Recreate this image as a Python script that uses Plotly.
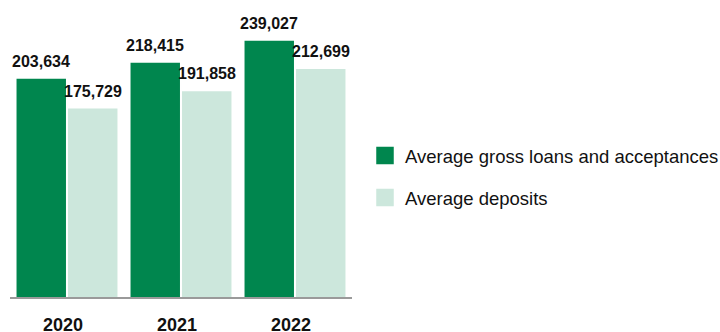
import plotly.graph_objects as go

years = ["2020", "2021", "2022"]
loans = [203634, 218415, 239027]
deposits = [175729, 191858, 212699]
series_names = ["Average gross loans and acceptances", "Average deposits"]
colors = ["#00864E", "#CCE7DC"]

FONT = "Liberation Sans, Arial, sans-serif"

fig = go.Figure()
for name, vals, col in zip(series_names, [loans, deposits], colors):
    fig.add_trace(go.Bar(x=years, y=vals, name=name, marker_color=col,
                         marker_line_width=0, showlegend=False))
for i, (name, col) in enumerate(zip(series_names, colors)):
    fig.add_trace(go.Scatter(x=[years[0]], y=[None], mode="markers", name=name,
                             legendgroup=f"g{i}", hoverinfo="skip",
                             marker=dict(symbol="square", size=16, color=col,
                                         line=dict(color=col, width=1.5))))

annotations = []
for vals, shift in [(loans, -25.75), (deposits, 25.75)]:
    for idx, v in enumerate(vals):
        # category axis: annotation x given as the category's serial index
        annotations.append(dict(x=idx, y=v, xref="x", yref="y", text=f"{v:,}",
                                showarrow=False, xshift=shift, yanchor="bottom",
                                yshift=7,
                                font=dict(family=FONT, size=16, color="#111111",
                                          weight="bold")))

fig.update_layout(
    width=720, height=332,
    margin=dict(l=10, r=368, t=20, b=35, autoexpand=False),
    paper_bgcolor="white", plot_bgcolor="white",
    barmode="group", bargap=0.0965, bargroupgap=0.04,
    annotations=annotations,
    legend=dict(xref="container", yref="container", x=365/720, y=1-137/332,
                xanchor="left", yanchor="top", tracegroupgap=15,
                font=dict(family=FONT, size=18.5, color="#111111"),
                bgcolor="rgba(0,0,0,0)"),
    xaxis=dict(type="category", range=[-0.5, 2.5], showline=True,
               linecolor="#9a9a9a", linewidth=2, automargin=False,
               ticks="", showgrid=False, ticklabelstandoff=10, ticklabelshift=-4,
               tickfont=dict(family=FONT, size=18, color="#111111", weight="bold")),
    yaxis=dict(visible=False, range=[0, 258400], showgrid=False, automargin=False),
)

fig.write_html("out.html")
